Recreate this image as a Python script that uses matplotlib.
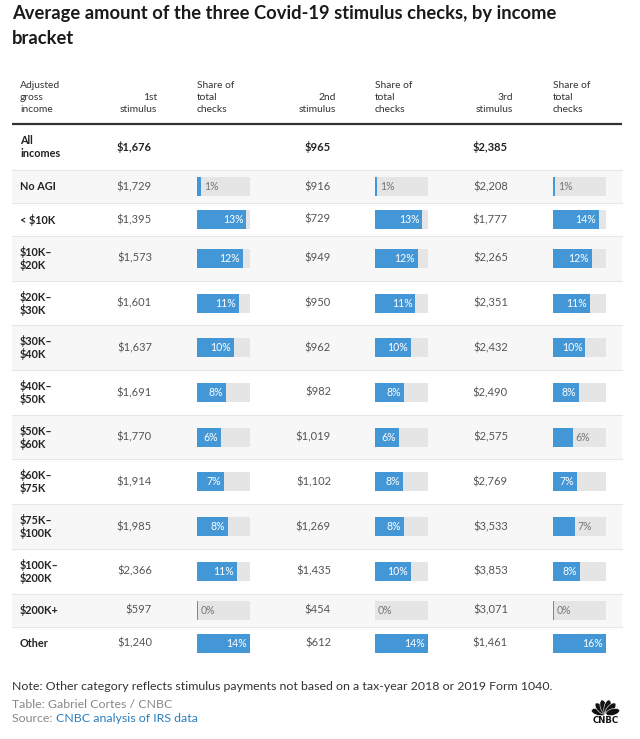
import math
import matplotlib
matplotlib.use("Agg")
import matplotlib.pyplot as plt
from matplotlib.patches import Rectangle, Ellipse

plt.rcParams['font.family'] = ['Lato', 'DejaVu Sans']

# ---- data ----
brackets = ["All\nincomes", "No AGI", "< $10K", "$10K–\n$20K", "$20K–\n$30K", "$30K–\n$40K",
            "$40K–\n$50K", "$50K–\n$60K", "$60K–\n$75K", "$75K–\n$100K", "$100K–\n$200K",
            "$200K+", "Other"]
first_amt = [1676, 1729, 1395, 1573, 1601, 1637, 1691, 1770, 1914, 1985, 2366, 597, 1240]
second_amt = [965, 916, 729, 949, 950, 962, 982, 1019, 1102, 1269, 1435, 454, 612]
third_amt = [2385, 2208, 1777, 2265, 2351, 2432, 2490, 2575, 2769, 3533, 3853, 3071, 1461]
# share of total checks (%), rows after "All incomes"
first_share = [1.1, 13.4, 12.4, 11.4, 10.1, 8.0, 6.4, 7.4, 8.4, 10.9, 0.2, 14.4]
second_share = [0.6, 12.9, 11.7, 11.0, 9.7, 7.8, 6.4, 7.6, 7.8, 9.7, 0.0, 14.4]
third_share = [0.6, 14.0, 11.8, 11.2, 9.8, 7.9, 6.0, 7.2, 6.6, 8.2, 0.2, 16.0]
col_headers = ["1st\nstimulus", "2nd\nstimulus", "3rd\nstimulus"]

BLUE = '#4497d6'
TRACK = '#e5e5e5'
W, H = 640, 739

fig = plt.figure(figsize=(W / 100, H / 100), dpi=100)
ax = fig.add_axes([0, 0, 1, 1])
ax.set_xlim(0, W)
ax.set_ylim(H, 0)
ax.axis('off')


def lines(x, yc, s, step, **kw):
    parts = s.split('\n')
    y0 = yc - step * (len(parts) - 1) / 2
    for i, p in enumerate(parts):
        ax.text(x, y0 + i * step, p, va='center', **kw)


# title
ax.text(12, 14, "Average amount of the three Covid-19 stimulus checks, by income",
        fontsize=13.2, fontweight='bold', color='#1a1a1a', va='center')
ax.text(12, 38, "bracket", fontsize=13.2, fontweight='bold', color='#1a1a1a', va='center')

# header
hdr = dict(fontsize=7.4, color='#333333')
lines(20, 97, "Adjusted\ngross\nincome", 12, **hdr)
amt_right = [152, 331, 508]
track_x = [197, 375, 553]
track_w = 53
for i in range(3):
    lines(amt_right[i] + 5, 103, col_headers[i], 12, ha='right', **hdr)
    lines(track_x[i], 97, "Share of\ntotal\nchecks", 12, **hdr)
ax.plot([12, 622], [124, 124], color='#333333', lw=1.6, solid_capstyle='butt')

# row layout
heights = [46] + [44.7 if '\n' in b else 33 for b in brackets[1:]]
tops = [124]
for h in heights[:-1]:
    tops.append(tops[-1] + h)
centers = [t + h / 2 for t, h in zip(tops, heights)]

for i, b in enumerate(brackets):
    if i >= 1 and i % 2 == 1:
        ax.add_patch(Rectangle((12, tops[i]), 610, heights[i], color='#f7f7f7', lw=0, zorder=0))
    if i < len(brackets) - 1:
        ax.plot([12, 622], [tops[i] + heights[i]] * 2, color='#e6e6e6', lw=0.8, zorder=1)
    lines(20, centers[i], b, 13, fontsize=7.8, fontweight='bold', color='#222222')
    for j, amts in enumerate([first_amt, second_amt, third_amt]):
        if i == 0:
            ax.text(amt_right[j], centers[i], f"${amts[i]:,}", ha='right', va='center',
                    fontsize=8, fontweight='bold', color='#222222')
        else:
            ax.text(amt_right[j], centers[i], f"${amts[i]:,}", ha='right', va='center',
                    fontsize=8, color='#555555')

# share bars, one axes per column
for j, shares in enumerate([first_share, second_share, third_share]):
    bx = fig.add_axes([track_x[j] / W, 0, track_w / W, 1])
    vmax = max(shares)
    bx.set_xlim(0, vmax)
    bx.set_ylim(H, 0)
    bx.axis('off')
    px = vmax / track_w
    ys = centers[1:]
    bx.barh(ys, [vmax] * len(ys), height=19, color=TRACK, lw=0)
    bx.barh(ys, shares, height=19, color=BLUE, lw=0)
    for y, v in zip(ys, shares):
        lab = f"{round(v)}%"
        if v / px >= 23:
            bx.text(v - 3 * px, y, lab, ha='right', va='center', fontsize=7.6, color='white')
        else:
            bx.text(v + 3 * px, y, lab, ha='left', va='center', fontsize=7.6, color='#777777',
                    clip_on=False)

# footer
ax.text(12, 686, "Note: Other category reflects stimulus payments not based on a tax-year 2018 or 2019 Form 1040.",
        fontsize=8.9, color='#333333', va='center')
ax.text(12, 704, "Table: Gabriel Cortes / CNBC", fontsize=8.9, color='#888888', va='center')
t = ax.text(12, 719, "Source: ", fontsize=8.9, color='#888888', va='center')
ax.annotate("CNBC analysis of IRS data", xycoords=t, xy=(1, 0.5), va='center',
            fontsize=8.9, color='#2a7fc0')

# CNBC peacock logo
bx0, by0 = 605.5, 714
for ang in [165, 133, 105, 75, 47, 15]:
    r = 7.5
    cx = bx0 + r * math.cos(math.radians(ang))
    cy = by0 - r * math.sin(math.radians(ang))
    ax.add_patch(Ellipse((cx, cy), 14, 6.6, angle=-ang, fc='#111111', ec='white', lw=0.4))
ax.text(605.5, 720.5, "CNBC", ha='center', va='center', fontsize=6.2, fontweight='heavy',
        family='DejaVu Sans', color='#111111')

fig.savefig("out.png", dpi=100)
